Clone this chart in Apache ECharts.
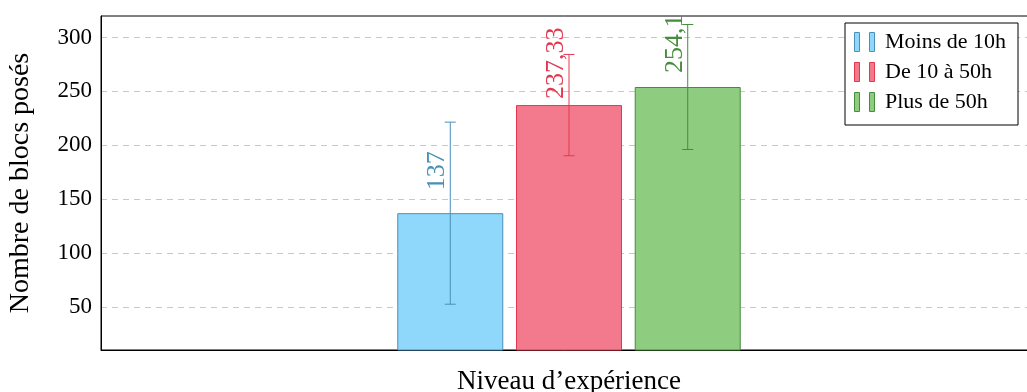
<!DOCTYPE html>
<html>
<head>
<meta charset="utf-8">
<script src="https://cdn.jsdelivr.net/npm/echarts@6/dist/echarts.min.js"></script>
<style>html,body{margin:0;padding:0;background:#fff}#c{width:1027px;height:392px}</style>
</head>
<body>
<div id="c"></div>
<script>
const categories = [''];
const seriesNames = ['Moins de 10h', 'De 10 à 50h', 'Plus de 50h'];
const means = [137, 237.33, 254.1];
const errors = [84.5, 47, 58];
const yTicks = [50, 100, 150, 200, 250, 300];

const fills = ['#8fd8fc', '#f37a8c', '#8ecc80'];
const strokes = ['#4a90b8', '#e2384f', '#468c3c'];
const labelDist = [23, 6, 14];
const BAR_W = 106, GAP = 0.12;
const FONT = 'Liberation Serif';

const chart = echarts.init(document.getElementById('c'), null, {renderer: 'canvas'});
const series = [];
seriesNames.forEach((name, i) => {
  series.push({
    name: name, type: 'bar', barWidth: BAR_W, barGap: (GAP * 100) + '%',
    data: [means[i]],
    itemStyle: {color: fills[i], borderColor: strokes[i], borderWidth: 1},
    label: {
      show: true, position: 'top', rotate: 90, align: 'left', verticalAlign: 'bottom',
      distance: labelDist[i], color: strokes[i], fontFamily: FONT, fontSize: 26,
      formatter: p => String(p.value).replace('.', ',')
    },
    z: 2
  });
});
seriesNames.forEach((name, i) => {
  series.push({
    name: name, type: 'custom', z: 5,
    data: [[0, means[i] - errors[i], means[i] + errors[i]]],
    renderItem: (params, api) => {
      const off = (i - 1) * BAR_W * (1 + GAP);
      const lo = api.coord([api.value(0), api.value(1)]);
      const hi = api.coord([api.value(0), api.value(2)]);
      const x = lo[0] + off, cap = 5.5;
      const st = {stroke: strokes[i], lineWidth: 1};
      return {type: 'group', children: [
        {type: 'line', shape: {x1: x, y1: lo[1], x2: x, y2: hi[1]}, style: st},
        {type: 'line', shape: {x1: x - cap, y1: lo[1], x2: x + cap, y2: lo[1]}, style: st},
        {type: 'line', shape: {x1: x - cap, y1: hi[1], x2: x + cap, y2: hi[1]}, style: st}
      ]};
    }
  });
});

chart.setOption({
  animation: false,
  backgroundColor: '#fff',
  textStyle: {fontFamily: FONT},
  grid: {left: 101, right: -10, top: 16, bottom: 42, containLabel: false, outerBoundsMode: 'none',
         show: true, borderColor: '#000', borderWidth: 1},
  legend: {
    data: seriesNames.map((n, i) => ({name: n, itemStyle: {color: fills[i], borderColor: strokes[i], borderWidth: 1}})),
    orient: 'vertical', right: 9, top: 23,
    backgroundColor: '#fff', borderColor: '#000', borderWidth: 1,
    padding: [8, 12, 12, 9], itemGap: 8, itemWidth: 21, itemHeight: 19,
    icon: 'path://M0,0H5V19H0Z M15,0H20V19H15Z',
    textStyle: {fontFamily: FONT, fontSize: 22, color: '#000', padding: [0, 0, 0, 5]}
  },
  xAxis: {
    type: 'category', data: categories,
    name: 'Niveau d’expérience', nameLocation: 'middle', nameGap: 18,
    nameTextStyle: {fontFamily: FONT, fontSize: 27, color: '#000'},
    axisLine: {show: true, lineStyle: {color: '#000'}},
    axisTick: {show: false}, axisLabel: {show: false}, splitLine: {show: false}
  },
  yAxis: {
    type: 'value', min: 10, max: 320,
    name: 'Nombre de blocs posés', nameLocation: 'middle', nameGap: 66,
    nameTextStyle: {fontFamily: FONT, fontSize: 28, color: '#000'},
    axisLine: {show: true, lineStyle: {color: '#000'}},
    axisTick: {show: false, customValues: yTicks},
    axisLabel: {customValues: yTicks, fontFamily: FONT, fontSize: 23, color: '#000', margin: 9},
    splitLine: {show: true, lineStyle: {color: '#c8c8c8', type: [6, 5], width: 1}}
  },
  series: series
});
</script>
</body>
</html>
